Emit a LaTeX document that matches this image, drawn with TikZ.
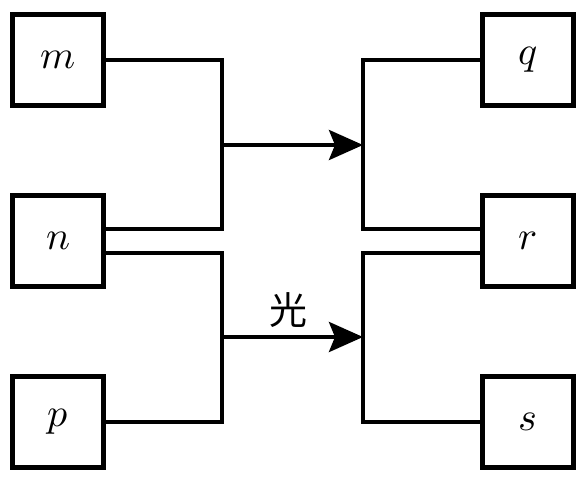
\documentclass[tikz,border=0pt]{standalone}
\usepackage{fontspec}
\usepackage{unicode-math}
\setmathfont{Latin Modern Math}
\newfontfamily\cjk{Noto Sans CJK SC}
\usetikzlibrary{arrows.meta, positioning}

\tikzset{
  blk/.style={draw, line width=4.5pt, minimum size=91pt, inner sep=0pt,
              font=\fontsize{40}{48}\selectfont},
  wire/.style={line width=4pt},
  flow/.style={wire, -{Stealth[length=34pt, width=30pt, inset=6pt]}}
}

\begin{document}
\begin{tikzpicture}[x=1pt, y=-1pt, node distance=181pt]
  \useasboundingbox (0,0) rectangle (586,479);

% define the boxes
  \node[blk] (m) at (58,60) {$m$};
  \node[blk] (n) [below of=m] {$n$};
  \node[blk] (p) [below of=n] {$p$};
  \node[blk] (q) [right of=m, node distance=470pt] {$q$};
  \node[blk] (r) [below of=q] {$r$};
  \node[blk] (s) [below of=r] {$s$};

% junction points
  \coordinate (jl1) at (222,145);
  \coordinate (jr1) at (363,145);
  \coordinate (jl2) at (222,337);
  \coordinate (jr2) at (363,337);

% define the links
  \draw[wire] (m.east) -| (jl1) |- ([yshift=12pt]n.east);
  \draw[wire] (q.west) -| (jr1) |- ([yshift=12pt]r.west);
  \draw[wire] ([yshift=-12pt]n.east) -| (jl2) |- (p.east);
  \draw[wire] ([yshift=-12pt]r.west) -| (jr2) |- (s.west);
  \draw[flow] (jl1) -- (jr1);
  \draw[flow] (jl2) -- node[above=4pt, xshift=-4pt, font=\fontsize{38}{40}\selectfont\cjk] {光} (jr2);

\end{tikzpicture}
\end{document}
